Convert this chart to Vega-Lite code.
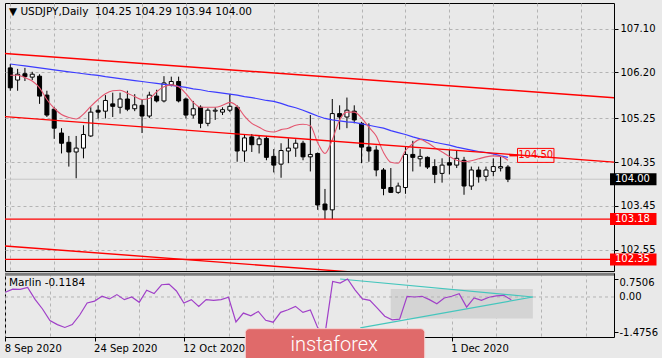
{
  "$schema": "https://vega.github.io/schema/vega-lite/v6.json",
  "background": "#e9e9e9",
  "padding": {"left": 3, "top": 2, "right": 3, "bottom": 0},
  "spacing": 0,
  "config": {
    "view": {"stroke": "#000000", "strokeWidth": 1},
    "font": "DejaVu Sans"
  },
  "datasets": {
    "bars": [
      {"i":0,"o":106.29,"h":106.37,"l":105.82,"c":105.88,"b":106.37,"r":106.14,"m":0.20},
      {"i":1,"o":106.04,"h":106.27,"l":105.82,"c":106.16,"b":106.35,"r":106.14,"m":0.33},
      {"i":2,"o":106.17,"h":106.29,"l":106.02,"c":106.11,"b":106.33,"r":106.09,"m":0.32},
      {"i":3,"o":106.10,"h":106.21,"l":106.04,"c":106.16,"b":106.31,"r":106.02,"m":0.40},
      {"i":4,"o":106.12,"h":106.16,"l":105.55,"c":105.71,"b":106.29,"r":105.88,"m":-0.10},
      {"i":5,"o":105.73,"h":105.82,"l":105.28,"c":105.32,"b":106.27,"r":105.64,"m":-0.50},
      {"i":6,"o":105.44,"h":105.48,"l":104.83,"c":105.05,"b":106.25,"r":105.46,"m":-0.98},
      {"i":7,"o":104.95,"h":105.05,"l":104.53,"c":104.74,"b":106.23,"r":105.33,"m":-1.15},
      {"i":8,"o":104.76,"h":104.89,"l":104.26,"c":104.56,"b":106.21,"r":105.27,"m":-1.27},
      {"i":9,"o":104.56,"h":104.89,"l":104.02,"c":104.64,"b":106.19,"r":105.24,"m":-1.15},
      {"i":10,"o":104.64,"h":105.11,"l":104.43,"c":104.92,"b":106.17,"r":105.34,"m":-0.75},
      {"i":11,"o":104.89,"h":105.48,"l":104.87,"c":105.38,"b":106.15,"r":105.50,"m":-0.25},
      {"i":12,"o":105.42,"h":105.52,"l":105.25,"c":105.38,"b":106.135,"r":105.64,"m":-0.17},
      {"i":13,"o":105.40,"h":105.73,"l":105.25,"c":105.62,"b":106.11,"r":105.76,"m":0.03},
      {"i":14,"o":105.55,"h":105.78,"l":105.28,"c":105.50,"b":106.09,"r":105.82,"m":-0.08},
      {"i":15,"o":105.48,"h":105.78,"l":105.35,"c":105.65,"b":106.07,"r":105.83,"m":0.10},
      {"i":16,"o":105.65,"h":105.82,"l":105.40,"c":105.44,"b":106.05,"r":105.77,"m":-0.11},
      {"i":17,"o":105.45,"h":105.75,"l":105.40,"c":105.53,"b":106.03,"r":105.70,"m":0.00},
      {"i":18,"o":105.52,"h":105.65,"l":104.95,"c":105.30,"b":106.01,"r":105.64,"m":-0.22},
      {"i":19,"o":105.30,"h":105.80,"l":105.26,"c":105.73,"b":105.99,"r":105.66,"m":0.28},
      {"i":20,"o":105.71,"h":105.84,"l":105.58,"c":105.61,"b":105.97,"r":105.80,"m":0.14},
      {"i":21,"o":105.61,"h":106.12,"l":105.58,"c":105.98,"b":105.95,"r":105.90,"m":0.51},
      {"i":22,"o":105.94,"h":106.11,"l":105.91,"c":106.01,"b":105.93,"r":105.94,"m":0.54},
      {"i":23,"o":106.01,"h":106.11,"l":105.58,"c":105.61,"b":105.91,"r":105.90,"m":0.25},
      {"i":24,"o":105.65,"h":105.68,"l":105.25,"c":105.32,"b":105.89,"r":105.76,"m":-0.25},
      {"i":25,"o":105.32,"h":105.61,"l":105.25,"c":105.45,"b":105.86,"r":105.58,"m":-0.11},
      {"i":26,"o":105.48,"h":105.52,"l":105.05,"c":105.15,"b":105.84,"r":105.48,"m":-0.39},
      {"i":27,"o":105.15,"h":105.46,"l":105.09,"c":105.42,"b":105.81,"r":105.48,"m":-0.11},
      {"i":28,"o":105.40,"h":105.48,"l":105.22,"c":105.42,"b":105.79,"r":105.48,"m":-0.14},
      {"i":29,"o":105.38,"h":105.48,"l":105.32,"c":105.43,"b":105.77,"r":105.52,"m":-0.11},
      {"i":30,"o":105.42,"h":105.75,"l":105.38,"c":105.50,"b":105.75,"r":105.58,"m":-0.01},
      {"i":31,"o":105.48,"h":105.52,"l":104.36,"c":104.58,"b":105.73,"r":105.50,"m":-1.04},
      {"i":32,"o":104.58,"h":104.92,"l":104.36,"c":104.85,"b":105.70,"r":105.30,"m":-0.67},
      {"i":33,"o":104.87,"h":104.93,"l":104.56,"c":104.71,"b":105.68,"r":105.15,"m":-0.78},
      {"i":34,"o":104.71,"h":104.89,"l":104.53,"c":104.83,"b":105.65,"r":105.07,"m":-0.60},
      {"i":35,"o":104.84,"h":104.89,"l":104.39,"c":104.45,"b":105.62,"r":104.99,"m":-0.97},
      {"i":36,"o":104.47,"h":104.62,"l":104.14,"c":104.29,"b":105.60,"r":104.97,"m":-1.05},
      {"i":37,"o":104.31,"h":104.74,"l":104.03,"c":104.59,"b":105.56,"r":105.02,"m":-0.64},
      {"i":38,"o":104.58,"h":104.84,"l":104.33,"c":104.64,"b":105.51,"r":105.05,"m":-0.53},
      {"i":39,"o":104.64,"h":104.82,"l":104.46,"c":104.74,"b":105.47,"r":105.11,"m":-0.39},
      {"i":40,"o":104.74,"h":104.79,"l":104.39,"c":104.46,"b":105.42,"r":105.13,"m":-0.64},
      {"i":41,"o":104.46,"h":105.32,"l":104.16,"c":104.51,"b":105.36,"r":105.10,"m":-0.54},
      {"i":42,"o":104.53,"h":104.55,"l":103.37,"c":103.47,"b":105.30,"r":104.75,"m":-1.29},
      {"i":43,"o":103.49,"h":103.80,"l":103.18,"c":103.37,"b":105.25,"r":104.53,"m":-1.4756},
      {"i":44,"o":103.37,"h":105.65,"l":103.18,"c":105.35,"b":105.22,"r":104.81,"m":0.65},
      {"i":45,"o":105.35,"h":105.52,"l":105.02,"c":105.28,"b":105.20,"r":105.22,"m":0.58},
      {"i":46,"o":105.28,"h":105.68,"l":105.05,"c":105.42,"b":105.18,"r":105.38,"m":0.7506},
      {"i":47,"o":105.40,"h":105.52,"l":105.15,"c":105.22,"b":105.17,"r":105.38,"m":0.30},
      {"i":48,"o":105.15,"h":105.18,"l":104.33,"c":104.66,"b":105.14,"r":105.26,"m":-0.08},
      {"i":49,"o":104.66,"h":105.15,"l":104.36,"c":104.58,"b":105.11,"r":105.07,"m":-0.14},
      {"i":50,"o":104.60,"h":104.69,"l":104.06,"c":104.19,"b":105.08,"r":104.89,"m":-0.46},
      {"i":51,"o":104.19,"h":104.23,"l":103.67,"c":103.81,"b":105.05,"r":104.55,"m":-0.80},
      {"i":52,"o":103.83,"h":104.23,"l":103.72,"c":103.73,"b":105.00,"r":104.35,"m":-0.95},
      {"i":53,"o":103.73,"h":103.93,"l":103.70,"c":103.86,"b":104.96,"r":104.33,"m":-0.92},
      {"i":54,"o":103.83,"h":104.66,"l":103.70,"c":104.51,"b":104.92,"r":104.59,"m":0.03},
      {"i":55,"o":104.51,"h":104.79,"l":104.16,"c":104.45,"b":104.87,"r":104.73,"m":0.00},
      {"i":56,"o":104.42,"h":104.62,"l":104.26,"c":104.47,"b":104.83,"r":104.82,"m":0.03},
      {"i":57,"o":104.45,"h":104.47,"l":104.21,"c":104.25,"b":104.80,"r":104.75,"m":-0.11},
      {"i":58,"o":104.26,"h":104.41,"l":103.92,"c":104.10,"b":104.76,"r":104.65,"m":-0.28},
      {"i":59,"o":104.12,"h":104.43,"l":103.93,"c":104.29,"b":104.73,"r":104.56,"m":-0.04},
      {"i":60,"o":104.34,"h":104.60,"l":104.10,"c":104.29,"b":104.70,"r":104.47,"m":0.03},
      {"i":61,"o":104.29,"h":104.59,"l":104.23,"c":104.43,"b":104.66,"r":104.39,"m":0.14},
      {"i":62,"o":104.39,"h":104.46,"l":103.68,"c":103.86,"b":104.63,"r":104.36,"m":-0.42},
      {"i":63,"o":103.86,"h":104.26,"l":103.78,"c":104.19,"b":104.60,"r":104.38,"m":-0.04},
      {"i":64,"o":104.19,"h":104.26,"l":103.93,"c":104.05,"b":104.57,"r":104.42,"m":-0.14},
      {"i":65,"o":104.06,"h":104.26,"l":103.96,"c":104.19,"b":104.55,"r":104.46,"m":-0.01},
      {"i":66,"o":104.16,"h":104.43,"l":104.06,"c":104.26,"b":104.52,"r":104.48,"m":0.05},
      {"i":67,"o":104.23,"h":104.47,"l":104.16,"c":104.26,"b":104.48,"r":104.47,"m":0.07},
      {"i":68,"o":104.25,"h":104.29,"l":103.94,"c":104.00,"b":104.45,"r":104.39,"m":-0.1184}
    ],
    "trend": [
      {"g":"a","i":-1,"p":106.59},{"g":"a","i":83,"p":105.67},
      {"g":"b","i":-1,"p":105.29},{"g":"b","i":83,"p":104.345},
      {"g":"c","i":-1,"p":102.63},{"g":"c","i":83,"p":101.68}
    ],
    "cur": [{"p":104.0,"t":"104.00"}],
    "lvl": [{"p":103.18,"t":"103.18"},{"p":102.35,"t":"102.35"}],
    "tag": [{"p":104.49,"t":"104.50"}],
    "zero": [{"v":0,"t":"0.00"}],
    "tri": [
      {"g":"u","i":45.0,"v":0.75},{"g":"u","i":70.9,"v":0.0},
      {"g":"d","i":47.7,"v":-1.29},{"g":"d","i":70.9,"v":0.0}
    ],
    "zone": [{"i1":51.8,"i2":70.9,"v1":0.33,"v2":-0.90}]
  },
  "vconcat": [
    {
      "width": 609,
      "height": 268,
      "title": {"text": "▼ USDJPY,Daily\u00a0\u00a0104.25 104.29 103.94 104.00", "anchor": "start", "frame": "group", "offset": -14, "dx": 4, "font": "DejaVu Sans", "fontSize": 10.5, "fontWeight": "normal", "color": "#000000"},
      "layer": [
        {
          "data": {"name": "cur"},
          "mark": {"type": "rule", "color": "#c6c6c6", "strokeWidth": 1},
          "encoding": {
            "y": {"field": "p", "type": "quantitative", "title": null, "scale": {"domain": [102.215, 107.522], "nice": false, "zero": false},
              "axis": {"orient": "right", "values": [107.1, 106.2, 105.25, 104.35, 103.45, 102.55], "format": ".2f", "grid": true, "gridDash": [3, 3], "gridColor": "#b4b4b4", "domain": false, "ticks": true, "tickSize": 4, "tickColor": "#000000", "labelPadding": 2, "labelOverlap": false, "labelFont": "DejaVu Sans", "labelFontSize": 10, "labelColor": "#000000"}}
          }
        },
        {
          "data": {"name": "bars"},
          "mark": {"type": "rule", "color": "#000000", "strokeWidth": 1, "clip": true},
          "encoding": {
            "x": {"field": "i", "type": "quantitative", "title": null, "scale": {"domain": [-0.04, 81.81], "nice": false, "zero": false},
              "axis": {"values": [0, 6, 12, 18, 24, 30, 36, 42, 48, 54, 60, 66, 72, 78], "labels": false, "ticks": false, "domain": false, "grid": true, "gridDash": [3, 3], "gridColor": "#b4b4b4"}},
            "y": {"field": "l", "type": "quantitative", "title": null, "scale": {"domain": [102.215, 107.522], "nice": false, "zero": false}},
            "y2": {"field": "h"}
          }
        },
        {
          "data": {"name": "bars"},
          "mark": {"type": "bar", "orient": "vertical", "size": 4, "stroke": "#000000", "strokeWidth": 1, "clip": true},
          "encoding": {
            "x": {"field": "i", "type": "quantitative", "title": null, "scale": {"domain": [-0.04, 81.81], "nice": false, "zero": false}},
            "y": {"field": "o", "type": "quantitative", "title": null, "scale": {"domain": [102.215, 107.522], "nice": false, "zero": false}},
            "y2": {"field": "c"},
            "fill": {"condition": {"test": "datum.c >= datum.o", "value": "#ffffff"}, "value": "#000000"}
          }
        },
        {
          "data": {"name": "bars"},
          "mark": {"type": "line", "color": "#3c3cff", "strokeWidth": 1.2, "clip": true},
          "encoding": {
            "x": {"field": "i", "type": "quantitative", "title": null, "scale": {"domain": [-0.04, 81.81], "nice": false, "zero": false}},
            "y": {"field": "b", "type": "quantitative", "title": null, "scale": {"domain": [102.215, 107.522], "nice": false, "zero": false}}
          }
        },
        {
          "data": {"name": "bars"},
          "mark": {"type": "line", "color": "#e4566f", "strokeWidth": 1.1, "clip": true, "interpolate": "monotone"},
          "encoding": {
            "x": {"field": "i", "type": "quantitative", "title": null, "scale": {"domain": [-0.04, 81.81], "nice": false, "zero": false}},
            "y": {"field": "r", "type": "quantitative", "title": null, "scale": {"domain": [102.215, 107.522], "nice": false, "zero": false}}
          }
        },
        {
          "data": {"name": "trend"},
          "mark": {"type": "line", "color": "#ff0000", "strokeWidth": 1.4, "clip": true},
          "encoding": {
            "x": {"field": "i", "type": "quantitative", "title": null, "scale": {"domain": [-0.04, 81.81], "nice": false, "zero": false}},
            "y": {"field": "p", "type": "quantitative", "title": null, "scale": {"domain": [102.215, 107.522], "nice": false, "zero": false}},
            "detail": {"field": "g"}
          }
        },
        {
          "data": {"name": "lvl"},
          "mark": {"type": "rule", "color": "#ff0000", "strokeWidth": 1.2},
          "encoding": {
            "y": {"field": "p", "type": "quantitative", "title": null, "scale": {"domain": [102.215, 107.522], "nice": false, "zero": false}}
          }
        },
        {
          "data": {"name": "tag"},
          "mark": {"type": "rule", "color": "#ff0000", "strokeWidth": 2},
          "encoding": {
            "x": {"datum": 68.2, "type": "quantitative", "scale": {"domain": [-0.04, 81.81], "nice": false, "zero": false}},
            "x2": {"datum": 69.31},
            "y": {"field": "p", "type": "quantitative", "title": null, "scale": {"domain": [102.215, 107.522], "nice": false, "zero": false}}
          }
        },
        {
          "data": {"name": "tag"},
          "mark": {"type": "bar", "orient": "horizontal", "size": 14, "fillOpacity": 0, "stroke": "#ff0000", "strokeWidth": 1},
          "encoding": {
            "x": {"datum": 69.31, "type": "quantitative", "scale": {"domain": [-0.04, 81.81], "nice": false, "zero": false}},
            "x2": {"datum": 74.29},
            "y": {"field": "p", "type": "quantitative", "title": null, "scale": {"domain": [102.215, 107.522], "nice": false, "zero": false}}
          }
        },
        {
          "data": {"name": "tag"},
          "mark": {"type": "text", "color": "#ff0000", "font": "DejaVu Sans", "fontSize": 10, "align": "center", "baseline": "middle"},
          "encoding": {
            "x": {"datum": 71.8, "type": "quantitative", "scale": {"domain": [-0.04, 81.81], "nice": false, "zero": false}},
            "y": {"field": "p", "type": "quantitative", "title": null, "scale": {"domain": [102.215, 107.522], "nice": false, "zero": false}},
            "text": {"field": "t"}
          }
        },
        {
          "data": {"name": "cur"},
          "mark": {"type": "bar", "orient": "horizontal", "size": 12, "color": "#000000", "clip": false},
          "encoding": {
            "x": {"datum": 81.95, "type": "quantitative", "scale": {"domain": [-0.04, 81.81], "nice": false, "zero": false}},
            "x2": {"datum": 88.3},
            "y": {"field": "p", "type": "quantitative", "title": null, "scale": {"domain": [102.215, 107.522], "nice": false, "zero": false}}
          }
        },
        {
          "data": {"name": "lvl"},
          "mark": {"type": "bar", "orient": "horizontal", "size": 12, "color": "#ff0000", "clip": false},
          "encoding": {
            "x": {"datum": 81.95, "type": "quantitative", "scale": {"domain": [-0.04, 81.81], "nice": false, "zero": false}},
            "x2": {"datum": 88.3},
            "y": {"field": "p", "type": "quantitative", "title": null, "scale": {"domain": [102.215, 107.522], "nice": false, "zero": false}}
          }
        },
        {
          "data": {"name": "cur"},
          "mark": {"type": "text", "color": "#ffffff", "font": "DejaVu Sans", "fontSize": 10, "align": "left", "baseline": "middle", "clip": false},
          "encoding": {
            "x": {"datum": 82.62, "type": "quantitative", "scale": {"domain": [-0.04, 81.81], "nice": false, "zero": false}},
            "y": {"field": "p", "type": "quantitative", "title": null, "scale": {"domain": [102.215, 107.522], "nice": false, "zero": false}},
            "text": {"field": "t"}
          }
        },
        {
          "data": {"name": "lvl"},
          "mark": {"type": "text", "color": "#ffffff", "font": "DejaVu Sans", "fontSize": 10, "align": "left", "baseline": "middle", "clip": false},
          "encoding": {
            "x": {"datum": 82.62, "type": "quantitative", "scale": {"domain": [-0.04, 81.81], "nice": false, "zero": false}},
            "y": {"field": "p", "type": "quantitative", "title": null, "scale": {"domain": [102.215, 107.522], "nice": false, "zero": false}},
            "text": {"field": "t"}
          }
        }
      ]
    },
    {
      "width": 609,
      "height": 64,
      "title": {"text": "Marlin -0.1184", "anchor": "start", "frame": "group", "offset": -16, "dx": 4, "font": "DejaVu Sans", "fontSize": 10.5, "fontWeight": "normal", "color": "#000000"},
      "layer": [
        {
          "data": {"name": "zone"},
          "mark": {"type": "rect", "color": "#d4d4d4"},
          "encoding": {
            "x": {"field": "i1", "type": "quantitative", "title": null, "scale": {"domain": [-0.04, 81.81], "nice": false, "zero": false},
              "axis": {"values": [0, 6, 12, 18, 24, 30, 36, 42, 48, 54, 60, 66, 72, 78], "grid": true, "gridDash": [3, 3], "gridColor": "#b4b4b4", "domain": false, "tickSize": 4, "tickColor": "#000000", "tickOpacity": {"condition": {"test": "datum.value % 12 == 0 && datum.value <= 60", "value": 1}, "value": 0}, "labelExpr": "datum.value == 0 ? '8 Sep 2020' : datum.value == 12 ? '24 Sep 2020' : datum.value == 24 ? '12 Oct 2020' : datum.value == 60 ? '1 Dec 2020' : ''", "labelAlign": "left", "labelBaseline": "top", "labelPadding": 2, "labelOffset": -1, "labelFlush": false, "labelOverlap": false, "labelFont": "DejaVu Sans", "labelFontSize": 10, "labelColor": "#000000"}},
            "x2": {"field": "i2"},
            "y": {"field": "v1", "type": "quantitative", "title": null, "scale": {"domain": [-1.6667, 1.0], "nice": false, "zero": false},
              "axis": {"orient": "right", "values": [0.7506, 0, -1.4756], "labelExpr": "datum.value > 0.5 ? '0.7506' : (datum.value < -1 ? '-1.4756' : '')", "grid": false, "domain": false, "tickSize": 4, "tickColor": "#000000", "labelPadding": 1, "labelOverlap": false, "labelBaseline": "middle", "labelOffset": {"condition": {"test": "datum.value > 0.5", "value": 4}, "value": 0}, "labelFont": "DejaVu Sans", "labelFontSize": 10, "labelColor": "#000000"}},
            "y2": {"field": "v2"}
          }
        },
        {
          "data": {"name": "zero"},
          "mark": {"type": "rule", "color": "#b4b4b4", "strokeWidth": 1, "strokeDash": [3, 3]},
          "encoding": {
            "y": {"field": "v", "type": "quantitative", "title": null, "scale": {"domain": [-1.6667, 1.0], "nice": false, "zero": false}}
          }
        },
        {
          "data": {"name": "zero"},
          "mark": {"type": "text", "color": "#000000", "font": "DejaVu Sans", "fontSize": 10, "align": "left", "baseline": "middle", "clip": false},
          "encoding": {
            "x": {"datum": 82.52, "type": "quantitative", "scale": {"domain": [-0.04, 81.81], "nice": false, "zero": false}},
            "y": {"field": "v", "type": "quantitative", "title": null, "scale": {"domain": [-1.6667, 1.0], "nice": false, "zero": false}},
            "text": {"field": "t"}
          }
        },
        {
          "data": {"values": [{}]},
          "mark": {"type": "rule", "color": "#7c7c7c", "strokeWidth": 3},
          "encoding": {
            "y": {"datum": 0.95, "type": "quantitative", "scale": {"domain": [-1.6667, 1.0], "nice": false, "zero": false}}
          }
        },
        {
          "data": {"name": "tri"},
          "mark": {"type": "line", "color": "#45c6bd", "strokeWidth": 1.2, "clip": true},
          "encoding": {
            "x": {"field": "i", "type": "quantitative", "title": null, "scale": {"domain": [-0.04, 81.81], "nice": false, "zero": false}},
            "y": {"field": "v", "type": "quantitative", "title": null, "scale": {"domain": [-1.6667, 1.0], "nice": false, "zero": false}},
            "detail": {"field": "g"}
          }
        },
        {
          "data": {"name": "bars"},
          "mark": {"type": "line", "color": "#a040c8", "strokeWidth": 1.2, "clip": true},
          "encoding": {
            "x": {"field": "i", "type": "quantitative", "title": null, "scale": {"domain": [-0.04, 81.81], "nice": false, "zero": false}},
            "y": {"field": "m", "type": "quantitative", "title": null, "scale": {"domain": [-1.6667, 1.0], "nice": false, "zero": false}}
          }
        },
        {
          "data": {"values": [{}]},
          "mark": {"type": "rect", "color": "#e06a6a", "stroke": "#f4d2d2", "strokeWidth": 1, "cornerRadius": 4, "clip": false},
          "encoding": {
            "x": {"datum": 32.26, "type": "quantitative", "scale": {"domain": [-0.04, 81.81], "nice": false, "zero": false}},
            "x2": {"datum": 56.37},
            "y": {"datum": -1.32, "type": "quantitative", "scale": {"domain": [-1.6667, 1.0], "nice": false, "zero": false}},
            "y2": {"datum": -2.667}
          }
        },
        {
          "data": {"values": [{}]},
          "mark": {"type": "text", "text": "instaforex", "color": "#ffffff", "font": "Roboto", "fontWeight": 300, "fontSize": 20, "align": "center", "baseline": "middle", "clip": false},
          "encoding": {
            "x": {"datum": 44.2, "type": "quantitative", "scale": {"domain": [-0.04, 81.81], "nice": false, "zero": false}},
            "y": {"datum": -2.0, "type": "quantitative", "scale": {"domain": [-1.6667, 1.0], "nice": false, "zero": false}}
          }
        }
      ]
    }
  ]
}
